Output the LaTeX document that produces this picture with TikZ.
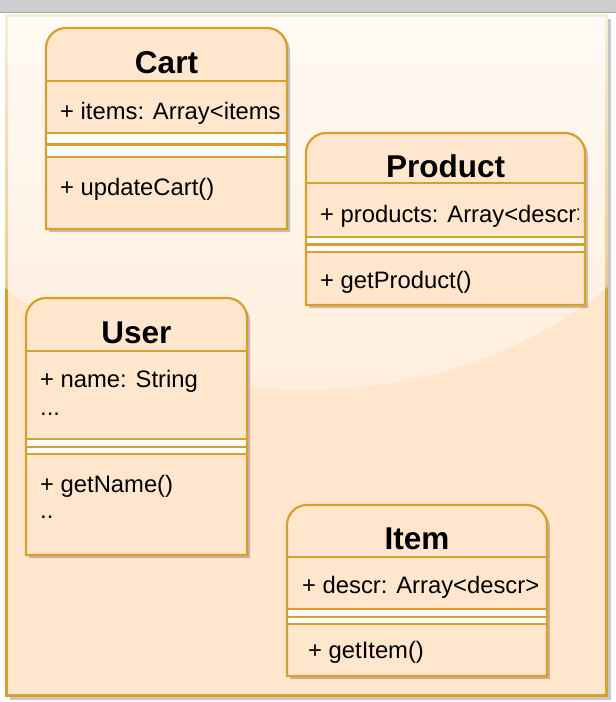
\documentclass[tikz,border=0pt]{standalone}
\usepackage{fontspec}
\setmainfont{Liberation Sans}
\usetikzlibrary{fadings}
\definecolor{fillc}{HTML}{FFE6CC}
\definecolor{strokec}{HTML}{D8A028}
\definecolor{bandc}{HTML}{CDCDCD}
\tikzfading[name=glossfade,top color=transparent!18,bottom color=transparent!66]
\newcommand{\umlbox}[8]{%
  \begin{scope}[shift={(3,3)}]
    \fill[black,opacity=0.22] (#1,#4) -- (#1,#2+20) arc[start angle=180,end angle=270,radius=20] -- (#3-20,#2) arc[start angle=270,end angle=360,radius=20] -- (#3,#4) -- cycle;
  \end{scope}
  \fill[fillc] (#1,#4) -- (#1,#2+20) arc[start angle=180,end angle=270,radius=20] -- (#3-20,#2) arc[start angle=270,end angle=360,radius=20] -- (#3,#4) -- cycle;
  \fill[white] (#1,#6) rectangle (#3,#8);
  \draw[boxline] (#1,#5) -- (#3,#5) (#1,#6) -- (#3,#6) (#1,#7) -- (#3,#7) (#1,#8) -- (#3,#8);
  \draw[boxline] (#1,#4) -- (#1,#2+20) arc[start angle=180,end angle=270,radius=20] -- (#3-20,#2) arc[start angle=270,end angle=360,radius=20] -- (#3,#4) -- cycle;
}
\begin{document}
\begin{tikzpicture}[x=1pt,y=-1pt,
  boxline/.style={draw=strokec,line width=2.2},
  title/.style={font=\fontsize{31.5}{36}\selectfont\bfseries,anchor=base,inner sep=0},
  member/.style={font=\fontsize{23.8}{28}\selectfont,anchor=base west,inner sep=0}]
\useasboundingbox (0,0) rectangle (616,702);
\fill[white] (0,0) rectangle (616,702);
% top band
\fill[bandc] (0,0) rectangle (616,12.5);
\draw[black!35,line width=1] (0,12.5) -- (616,12.5);
% panel
\fill[black!22] (10,19) rectangle (611,699.5);
\filldraw[fill=fillc,draw=strokec,line width=3] (6,15) rectangle (606.5,695);
\begin{scope}
  \clip (306,51) ellipse [x radius=420,y radius=339];
  \fill[white,path fading=glossfade] (4.5,13.5) rectangle (608,390);
\end{scope}
% Cart
\umlbox{46}{28}{287}{229}{81}{133}{144.5}{157}
\node[title] (cartT) at (166.5,73) {Cart};
\begin{scope}
  \clip (46,82) rectangle (280,132);
  \node[member] (cartA) at (60,119) {+ items: Array<items>};
\end{scope}
\node[member] (cartM) at (60,195) {+ updateCart()};
% Product
\umlbox{306}{133}{585}{305}{183}{237}{244.5}{252}
\node[title] (prodT) at (445.5,177) {Product};
\begin{scope}
  \clip (306,184) rectangle (578,236);
  \node[member] (prodA) at (320,222) {+ products: Array<descr>};
\end{scope}
\node[member] (prodM) at (320,288) {+ getProduct()};
% User
\umlbox{26}{298}{247}{555}{351}{439}{447}{454}
\node[title] (userT) at (136.5,343) {User};
\node[member] (userA) at (40,387) {+ name: String};
\node[member] (userA2) at (40,415) {...};
\node[member] (userM) at (40,492) {+ getName()};
\node[member] (userM2) at (40,518) {..};
% Item
\umlbox{287}{505}{547}{676}{557}{609}{617}{624}
\node[title] (itemT) at (417,549) {Item};
\node[member] (itemA) at (302,593) {+ descr: Array<descr>};
\node[member] (itemM) at (308,658) {+ getItem()};
\end{tikzpicture}
\end{document}
